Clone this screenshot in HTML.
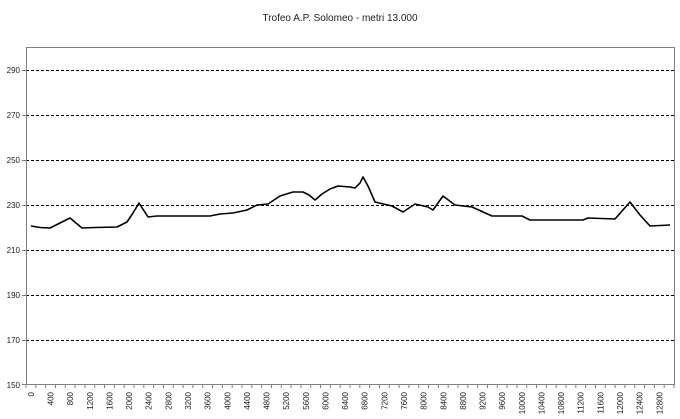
<!DOCTYPE html>
<html><head><style>body{margin:0;background:#fff}svg{display:block}text{font-family:"Liberation Sans",sans-serif;fill:#222}</style></head><body>
<svg width="680" height="419" viewBox="0 0 680 419" xmlns="http://www.w3.org/2000/svg">
<text x="340" y="21" font-size="10" text-anchor="middle">Trofeo A.P. Solomeo - metri 13.000</text>
<g stroke="#000" stroke-width="1" stroke-dasharray="3,2">
<line x1="26" y1="70.5" x2="674" y2="70.5"/><line x1="26" y1="115.5" x2="674" y2="115.5"/>
<line x1="26" y1="160.5" x2="674" y2="160.5"/><line x1="26" y1="205.5" x2="674" y2="205.5"/>
<line x1="26" y1="250.5" x2="674" y2="250.5"/><line x1="26" y1="295.5" x2="674" y2="295.5"/>
<line x1="26" y1="340.5" x2="674" y2="340.5"/>
</g>
<rect x="26.5" y="47.5" width="648" height="337" fill="none" stroke="#808080"/>
<g font-size="8" text-anchor="end">
<text x="20" y="73">290</text><text x="20" y="118">270</text><text x="20" y="163">250</text><text x="20" y="208">230</text><text x="20" y="253">210</text><text x="20" y="298">190</text><text x="20" y="343">170</text><text x="20" y="388">150</text>
</g>
<g stroke="#808080"><line x1="22" y1="70.5" x2="26" y2="70.5"/><line x1="22" y1="115.5" x2="26" y2="115.5"/><line x1="22" y1="160.5" x2="26" y2="160.5"/><line x1="22" y1="205.5" x2="26" y2="205.5"/><line x1="22" y1="250.5" x2="26" y2="250.5"/><line x1="22" y1="295.5" x2="26" y2="295.5"/><line x1="22" y1="340.5" x2="26" y2="340.5"/><line x1="22" y1="384.5" x2="26" y2="384.5"/></g>
<g id="ticks" stroke="#808080"></g>
<g id="xl" font-size="8"></g>
<polyline fill="none" stroke="#000" stroke-width="1.6" stroke-linejoin="round" points="31,226 40,227.5 50,228 60,223 70,218 82,228 95,227.5 117,227 127,222 133,213 139,203 148,217 157,216 210,216 220,214 233,213 247,210 257,205 268,204 280,196 293,192 303,192 309,195 315,200 322,194 330,189 338,186 350,187 355,188 360,183 363,177 368,186 375,202 392,206 403,212 415,204 428,207 433,210 443,196 455,205 472,207 492,216 522,216 530,220 583,220 588,218 615,219 630,202 640,215 650,226 670,225"/>
<script>
var t=document.getElementById('ticks'),l=document.getElementById('xl'),s='';
var w=648/66,ns='http://www.w3.org/2000/svg';
for(var i=0;i<=66;i++){var x=26+i*w;var ln=document.createElementNS(ns,'line');ln.setAttribute('x1',x);ln.setAttribute('x2',x);ln.setAttribute('y1',384);ln.setAttribute('y2',388);t.appendChild(ln);}
for(var k=0;k<=32;k++){var x=26+w*(2*k+0.5)+3;var tx=document.createElementNS(ns,'text');tx.setAttribute('transform','translate('+x+',392) rotate(-90)');tx.setAttribute('text-anchor','end');tx.textContent=String(k*400);l.appendChild(tx);}
</script>
</svg>
</body></html>
